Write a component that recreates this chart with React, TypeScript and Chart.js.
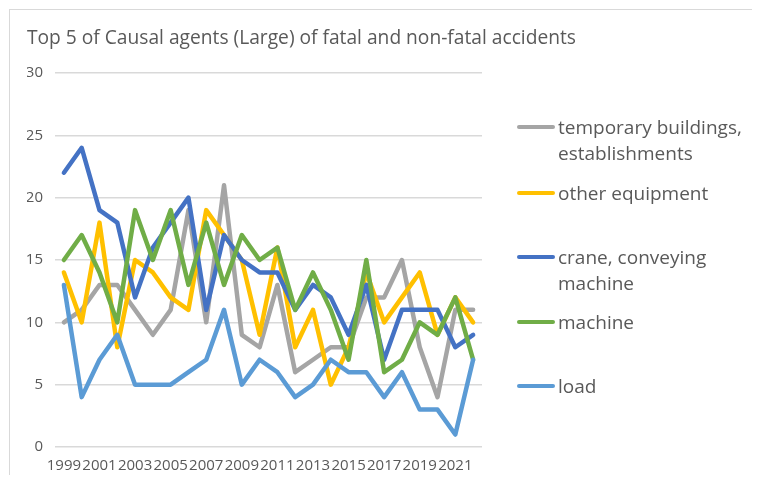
import React, { useEffect, useRef } from 'react';
import { Chart, registerables } from 'chart.js';

Chart.register(...registerables);

const years = [
  '1999', '2000', '2001', '2002', '2003', '2004', '2005', '2006', '2007', '2008', '2009', '2010',
  '2011', '2012', '2013', '2014', '2015', '2016', '2017', '2018', '2019', '2020', '2021', '2022',
];
const shownYearLabels = ['1999', '2001', '2003', '2005', '2007', '2009', '2011', '2013', '2015', '2017', '2019', '2021'];

const seriesNames = [
  'temporary buildings, establishments',
  'other equipment',
  'crane, conveying machine',
  'machine',
  'load',
];

const temporaryBuildings = [10, 11, 13, 13, 11, 9, 11, 19, 10, 21, 9, 8, 13, 6, 7, 8, 8, 12, 12, 15, 8, 4, 11, 11];
const otherEquipment = [14, 10, 18, 8, 15, 14, 12, 11, 19, 17, 15, 9, 16, 8, 11, 5, 8, 14, 10, 12, 14, 9, 12, 10];
const craneConveying = [22, 24, 19, 18, 12, 16, 18, 20, 11, 17, 15, 14, 14, 11, 13, 12, 9, 13, 7, 11, 11, 11, 8, 9];
const machine = [15, 17, 14, 10, 19, 15, 19, 13, 18, 13, 17, 15, 16, 11, 14, 11, 7, 15, 6, 7, 10, 9, 12, 7];
const load = [13, 4, 7, 9, 5, 5, 5, 6, 7, 11, 5, 7, 6, 4, 5, 7, 6, 6, 4, 6, 3, 3, 1, 7];

const yMin = 0;
const yMax = 30;
const yStep = 5;

const titleText = 'Top 5 of Causal agents (Large) of fatal and non-fatal accidents';

const seriesValues = [temporaryBuildings, otherEquipment, craneConveying, machine, load];
const seriesColors = ['#A5A5A5', '#FFC000', '#4472C4', '#70AD47', '#5B9BD5'];

const FONT = '"Open Sans", "Noto Sans", sans-serif';
const TEXT_COLOR = '#595959';

export default function App() {
  const canvasRef = useRef<HTMLCanvasElement | null>(null);

  useEffect(() => {
    const canvas = canvasRef.current;
    if (!canvas) return;
    const chart = new Chart(canvas, {
      type: 'line',
      data: {
        labels: years,
        datasets: seriesNames.map((name, i) => ({
          label: name,
          data: seriesValues[i],
          borderColor: seriesColors[i],
          backgroundColor: seriesColors[i],
          borderWidth: 4.5,
          pointRadius: 0,
          pointHoverRadius: 0,
          tension: 0,
          fill: false,
          borderCapStyle: 'round' as const,
          borderJoinStyle: 'round' as const,
          order: seriesNames.length - 1 - i,
        })),
      },
      options: {
        responsive: false,
        animation: false,
        layout: { padding: { left: 19, right: 278, top: 65, bottom: 0 } },
        plugins: {
          legend: { display: false },
          tooltip: { enabled: false },
          title: { display: false },
        },
        scales: {
          x: {
            type: 'category',
            offset: true,
            grid: { display: false, drawTicks: false },
            border: { display: false },
            ticks: {
              autoSkip: false,
              maxRotation: 0,
              minRotation: 0,
              padding: 10,
              color: TEXT_COLOR,
              font: { family: FONT, size: 15 },
              callback: function (value: any) {
                const lab = years[value as number];
                return shownYearLabels.includes(lab) ? lab : '';
              },
            },
          },
          y: {
            min: yMin,
            max: yMax,
            grid: { color: '#d9d9d9', lineWidth: 1.5, drawTicks: false },
            border: { display: false },
            ticks: {
              stepSize: yStep,
              padding: 12,
              color: TEXT_COLOR,
              font: { family: FONT, size: 15 },
            },
            afterFit: (scale: any) => {
              scale.width = 28;
            },
          },
        },
      },
    });
    return () => chart.destroy();
  }, []);

  const legendTops = [105.5, 171.5, 235.5, 300.5, 364.7];

  return (
    <div style={{ position: 'relative', width: 752, height: 467, overflow: 'hidden', background: '#fff' }}>
      <div
        style={{
          position: 'absolute',
          left: 1,
          top: 1,
          width: 900,
          height: 700,
          border: '1px solid #d9d9d9',
          boxSizing: 'border-box',
          pointerEvents: 'none',
        }}
      />
      <canvas ref={canvasRef} width={752} height={477} style={{ display: 'block', position: 'absolute', left: 0, top: 0 }} />
      <div
        style={{
          position: 'absolute',
          left: 19,
          top: 16,
          fontFamily: FONT,
          fontSize: 19.2,
          lineHeight: '26px',
          color: TEXT_COLOR,
          whiteSpace: 'nowrap',
        }}
      >
        {titleText}
      </div>
      {seriesNames.map((name, i) => (
        <div
          key={name}
          style={{
            position: 'absolute',
            left: 509,
            top: legendTops[i],
            display: 'flex',
            alignItems: 'flex-start',
            fontFamily: FONT,
            fontSize: 19,
            lineHeight: '26.5px',
            color: TEXT_COLOR,
          }}
        >
          <div style={{ width: 38, height: 4, background: seriesColors[i], marginTop: 11.25, marginRight: 3, borderRadius: 2, flex: 'none' }} />
          <div style={{ width: 196 }}>{name}</div>
        </div>
      ))}
    </div>
  );
}
